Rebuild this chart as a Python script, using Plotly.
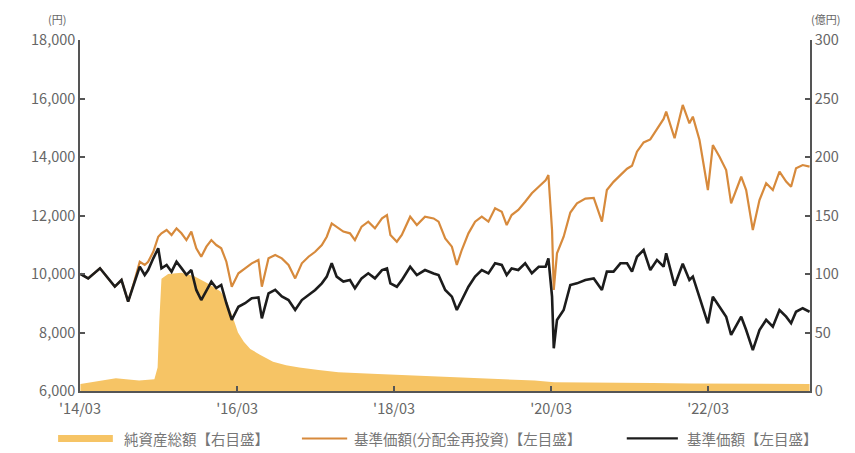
import plotly.graph_objects as go

# ---- data ----
nav_dates = [
    "2014-03-03", "2014-04-08", "2014-06-02", "2014-07-10", "2014-08-10", "2014-09-10", "2014-10-11",
    "2014-11-03", "2014-12-04", "2014-12-27", "2015-01-12", "2015-02-05", "2015-02-28", "2015-03-15",
    "2015-04-08", "2015-05-01", "2015-05-24", "2015-06-16", "2015-07-09", "2015-08-01", "2015-08-24",
    "2015-09-16", "2015-10-10", "2015-11-02", "2015-11-25", "2015-12-18", "2016-01-11", "2016-02-05",
    "2016-03-07", "2016-04-07", "2016-05-08", "2016-06-08", "2016-06-24", "2016-07-25", "2016-08-25",
    "2016-09-25", "2016-10-26", "2016-11-26", "2016-12-27", "2017-01-27", "2017-02-27", "2017-03-30",
    "2017-04-22", "2017-05-15", "2017-06-07", "2017-07-08", "2017-08-08", "2017-08-31", "2017-10-01",
    "2017-11-01", "2017-12-02", "2018-01-04", "2018-01-27", "2018-02-12", "2018-03-14", "2018-04-06",
    "2018-05-15", "2018-06-15", "2018-07-23", "2018-09-01", "2018-09-24", "2018-10-25", "2018-11-25",
    "2018-12-18", "2019-01-10", "2019-02-10", "2019-03-13", "2019-04-13", "2019-05-14", "2019-06-14",
    "2019-07-15", "2019-08-07", "2019-08-30", "2019-09-30", "2019-11-01", "2019-12-02", "2020-01-03",
    "2020-02-04", "2020-02-17", "2020-03-05", "2020-03-13", "2020-03-28", "2020-04-28", "2020-05-29",
    "2020-06-29", "2020-08-07", "2020-09-15", "2020-10-23", "2020-11-15", "2020-12-16", "2021-01-17",
    "2021-02-17", "2021-03-12", "2021-04-04", "2021-05-05", "2021-06-05", "2021-07-06", "2021-08-06",
    "2021-08-18", "2021-09-26", "2021-11-03", "2021-12-04", "2021-12-20", "2022-01-20", "2022-02-28",
    "2022-03-23", "2022-04-23", "2022-05-24", "2022-06-16", "2022-08-02", "2022-08-25", "2022-09-25",
    "2022-10-26", "2022-11-26", "2022-12-27", "2023-01-27", "2023-02-27", "2023-03-22", "2023-04-14",
    "2023-05-15", "2023-06-16",
]

nav = [  # 基準価額
    10000, 9850, 10195, 9850, 9570, 9795, 9055,
    9570, 10250, 9966, 10135, 10535, 10880, 10195,
    10310, 10080, 10420, 10200, 9970, 10135, 9455,
    9110, 9455, 9740, 9520, 9625, 9000, 8430,
    8880, 9000, 9170, 9200, 8485, 9340, 9455,
    9230, 9110, 8770, 9110, 9280, 9455, 9680,
    9910, 10365, 9910, 9740, 9795, 9510, 9850,
    10025, 9850, 10135, 10190, 9680, 9565, 9790,
    10250, 9965, 10135, 10020, 9965, 9455, 9225,
    8770, 9110, 9565, 9910, 10135, 10020, 10365,
    10310, 9965, 10190, 10135, 10365, 10025, 10250,
    10250, 10535, 9225, 7460, 8430, 8770, 9625,
    9680, 9795, 9850, 9455, 10080, 10080, 10365,
    10365, 10080, 10590, 10820, 10135, 10480, 10250,
    10710, 9600, 10350, 9795, 9910, 9225, 8315,
    9225, 8880, 8540, 7915, 8540, 8085, 7400,
    8085, 8430, 8200, 8770, 8540, 8315, 8710,
    8830, 8710,
]

nav_reinvested = [  # 基準価額(分配金再投資)
    10000, 9850, 10195, 9850, 9570, 9795, 9055,
    9600, 10420, 10310, 10420, 10760, 11275, 11390,
    11505, 11335, 11560, 11390, 11160, 11450, 10880,
    10590, 10935, 11160, 10990, 10880, 10420, 9565,
    10025, 10195, 10365, 10480, 9565, 10535, 10650,
    10535, 10310, 9850, 10365, 10590, 10760, 10990,
    11275, 11730, 11620, 11450, 11390, 11160, 11620,
    11790, 11560, 11900, 12015, 11335, 11105, 11335,
    11960, 11675, 11960, 11900, 11790, 11220, 10935,
    10310, 10820, 11390, 11790, 11960, 11790, 12245,
    12130, 11675, 12015, 12190, 12470, 12760, 12985,
    13200, 13385, 11500, 9455, 10710, 11275, 12100,
    12415, 12580, 12600, 11790, 12870, 13150, 13380,
    13600, 13700, 14180, 14500, 14600, 14950, 15300,
    15550, 14640, 15780, 15150, 15380, 14580, 12870,
    14410, 14010, 13555, 12415, 13325, 12870, 11505,
    12530, 13100, 12870, 13500, 13160, 12985, 13615,
    13725, 13670,
]

aum_dates = [
    "2014-03-03", "2014-05-01", "2014-07-01", "2014-08-15", "2014-10-01", "2014-12-01", "2015-02-10",
    "2015-02-25", "2015-03-05", "2015-03-15", "2015-04-15", "2015-06-15", "2015-08-15", "2015-10-15",
    "2015-12-15", "2016-01-15", "2016-02-10", "2016-03-05", "2016-04-01", "2016-05-01", "2016-06-15",
    "2016-08-15", "2016-10-15", "2016-12-15", "2017-03-15", "2017-06-15", "2017-12-15", "2018-06-15",
    "2018-12-15", "2019-06-15", "2019-12-15", "2020-03-15", "2020-09-15", "2021-06-15", "2021-12-15",
    "2022-06-15", "2022-12-15", "2023-06-16",
]

aum = [  # 純資産総額 (億円)
    6, 8, 10, 11, 10, 9, 10,
    20, 60, 96, 100, 101, 98, 92,
    85, 76, 63, 50, 42, 36, 31,
    25, 22, 20, 18, 16, 14.5, 13,
    12, 10.5, 9, 7.5, 7, 6.8, 6.5,
    6.2, 6, 6,
]

left_ticks = [6000, 8000, 10000, 12000, 14000, 16000, 18000]
right_ticks = [0, 50, 100, 150, 200, 250, 300]
x_tick_dates = ["2014-03-01", "2016-03-01", "2018-03-01", "2020-03-01", "2022-03-01"]
x_tick_text = ["'14/03", "'16/03", "'18/03", "'20/03", "'22/03"]

series_names = ["純資産総額【右目盛】", "基準価額(分配金再投資)【左目盛】", "基準価額【左目盛】"]

# ---- styling ----
FONT = "Noto Sans CJK JP, Noto Sans, sans-serif"
AREA_C = "#F6C465"
ORANGE_C = "#D78A3C"
BLACK_C = "#1c1c1c"
AXIS_C = "#555555"
TXT_C = "#666666"

fig = go.Figure()

fig.add_trace(go.Scatter(
    x=aum_dates, y=aum, name=series_names[0], mode="lines",
    line=dict(width=0, color=AREA_C), fill="tozeroy", fillcolor=AREA_C,
    yaxis="y", showlegend=False,
))
fig.add_trace(go.Scatter(
    x=nav_dates, y=nav_reinvested, name=series_names[1], mode="lines",
    line=dict(width=2.2, color=ORANGE_C), yaxis="y2", showlegend=False,
))
fig.add_trace(go.Scatter(
    x=nav_dates, y=nav, name=series_names[2], mode="lines",
    line=dict(width=2.6, color=BLACK_C), yaxis="y2", showlegend=False,
))

fig.update_layout(
    width=855, height=453,
    margin=dict(l=80, r=45, t=40, b=62),
    paper_bgcolor="white", plot_bgcolor="white",
    font=dict(family=FONT, size=14, color=TXT_C),
    xaxis=dict(
        type="date", range=["2014-03-01", "2023-06-18"],
        tickvals=x_tick_dates, ticktext=x_tick_text,
        ticks="inside", ticklen=5, tickwidth=1.5, tickcolor=AXIS_C,
        showline=True, linecolor=AXIS_C, linewidth=1.5,
        showgrid=False, zeroline=False, ticklabelstandoff=4,
        tickfont=dict(size=14.5, color=TXT_C),
    ),
    yaxis=dict(  # right axis (億円)
        side="right", range=[0, 300], tickvals=right_ticks,
        ticks="inside", ticklen=5, tickwidth=1.5, tickcolor=AXIS_C,
        showline=True, linecolor=AXIS_C, linewidth=1.5,
        showgrid=False, zeroline=False,
        tickfont=dict(size=14.5, color=TXT_C),
    ),
    yaxis2=dict(  # left axis (円)
        side="left", overlaying="y", range=[6000, 18000], tickvals=left_ticks,
        tickformat=",d",
        ticks="inside", ticklen=5, tickwidth=1.5, tickcolor=AXIS_C,
        showline=True, linecolor=AXIS_C, linewidth=1.5,
        showgrid=False, zeroline=False,
        tickfont=dict(size=14.5, color=TXT_C),
    ),
)

# axis unit labels
fig.add_annotation(text="(円)", xref="paper", yref="paper", x=-0.016, y=1.06,
                   xanchor="right", yanchor="middle", showarrow=False,
                   font=dict(size=11, color=TXT_C))
fig.add_annotation(text="(億円)", xref="paper", yref="paper", x=0.998, y=1.06,
                   xanchor="left", yanchor="middle", showarrow=False,
                   font=dict(size=11, color=TXT_C))

# manual legend
LEG_Y = -0.135
legend_items = [
    (series_names[0], AREA_C, 7, -0.030, 0.045, 0.057),
    (series_names[1], ORANGE_C, 2, 0.304, 0.366, 0.372),
    (series_names[2], BLACK_C, 2.4, 0.749, 0.819, 0.829),
]
for name, col, w, x0, x1, xt in legend_items:
    fig.add_shape(type="line", xref="paper", yref="paper", x0=x0, x1=x1,
                  y0=LEG_Y, y1=LEG_Y, line=dict(color=col, width=w))
    fig.add_annotation(text=name, xref="paper", yref="paper", x=xt, y=LEG_Y,
                       xanchor="left", yanchor="middle", showarrow=False,
                       font=dict(size=14.5, color="#777777"))

fig.write_html(
    "out.html",
    config={"displayModeBar": False},
    post_script="document.body.style.margin='0';document.body.style.overflow='hidden';",
)
